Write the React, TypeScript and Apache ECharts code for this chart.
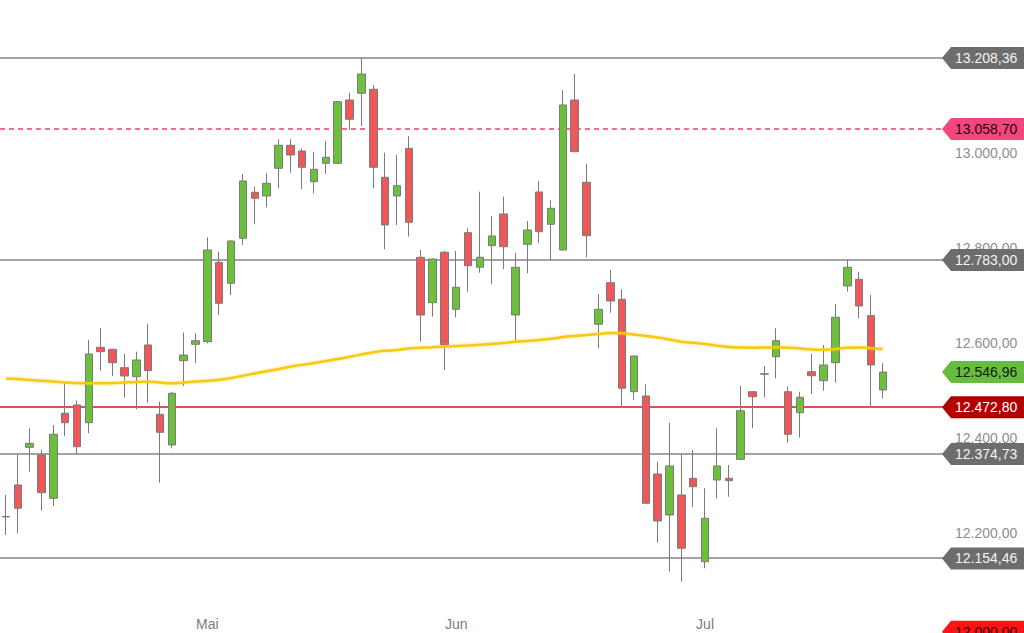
import React, { useEffect, useRef } from "react";
import * as echarts from "echarts";

// ---- data ----
const dates = [
  "2023-04-04", "2023-04-05", "2023-04-06", "2023-04-11", "2023-04-12", "2023-04-13", "2023-04-14",
  "2023-04-17", "2023-04-18", "2023-04-19", "2023-04-20", "2023-04-21", "2023-04-24", "2023-04-25",
  "2023-04-26", "2023-04-27", "2023-04-28",
  "2023-05-02", "2023-05-03", "2023-05-04", "2023-05-05", "2023-05-08", "2023-05-09", "2023-05-10",
  "2023-05-11", "2023-05-12", "2023-05-15", "2023-05-16", "2023-05-17", "2023-05-18", "2023-05-19",
  "2023-05-22", "2023-05-23", "2023-05-24", "2023-05-25", "2023-05-26", "2023-05-30", "2023-05-31",
  "2023-06-01", "2023-06-02", "2023-06-05", "2023-06-06", "2023-06-07", "2023-06-09", "2023-06-12",
  "2023-06-13", "2023-06-14", "2023-06-15", "2023-06-16", "2023-06-19", "2023-06-20", "2023-06-21",
  "2023-06-22", "2023-06-23", "2023-06-26", "2023-06-27", "2023-06-28", "2023-06-29", "2023-06-30",
  "2023-07-03", "2023-07-04", "2023-07-05", "2023-07-06", "2023-07-07", "2023-07-10", "2023-07-11",
  "2023-07-12", "2023-07-13", "2023-07-14", "2023-07-17", "2023-07-18", "2023-07-19", "2023-07-20",
  "2023-07-21", "2023-07-24",
];

const opens = [
  12243, 12309.3, 12388.6, 12372.4, 12281.2, 12460.2, 12477.7, 12440.4, 12599.2, 12595.0,
  12556.3, 12537.3, 12604.1, 12458.1, 12393.5, 12571.0, 12605.5, 12611.0, 12778.2, 12734.0,
  12828.7, 12925.6, 12917.8, 12976.1, 13024.6, 13012.5, 12947.9, 12986.7, 12986.7, 13119.9,
  13134.1, 13142.5, 12957.2, 12917.8, 13018.2, 12788.7, 12693.1, 12799.3, 12679.2, 12840.5,
  12767.7, 12813.2, 12879.9, 12667.2, 12816.1, 12926.2, 12858.2, 12804.1, 13119.9, 12946.7,
  12647.6, 12735.2, 12700.3, 12505.7, 12496.7, 12332.4, 12246.1, 12288.2, 12323.4, 12147.8,
  12319.8, 12323.4, 12363.4, 12505.7, 12543.5, 12579.4, 12505.7, 12461.5, 12547.8, 12528.9,
  12566.8, 12728.3, 12742.4, 12665.8, 12509.3,
];
const closes = [
  12242, 12260.2, 12397.0, 12293.0, 12416.0, 12440.4, 12389.9, 12585.1, 12590.0, 12566.8,
  12538.8, 12572.5, 12549.9, 12420.2, 12502.4, 12583.0, 12613.1, 12804.1, 12691.9, 12823.0,
  12949.4, 12913.0, 12944.5, 13024.6, 13004.1, 12978.2, 12974.0, 12999.3, 13116.4, 13079.3,
  13174.7, 12978.2, 12856.7, 12939.5, 12862.4, 12667.2, 12785.1, 12604.1, 12725.6, 12771.0,
  12788.7, 12833.6, 12811.0, 12767.7, 12846.2, 12842.6, 12891.9, 13109.4, 13011.1, 12834.2,
  12679.2, 12696.7, 12512.9, 12580.9, 12270.7, 12233.5, 12349.3, 12176.0, 12305.7, 12239.1,
  12349.3, 12318.3, 12465.7, 12495.2, 12542.5, 12613.1, 12416.0, 12494.0, 12539.4, 12561.9,
  12662.4, 12767.7, 12686.2, 12561.9, 12546.96,
];
const lows = [
  12204, 12207.5, 12337.2, 12255.1, 12265.0, 12412.4, 12374.5, 12418.1, 12549.9, 12538.8,
  12493.1, 12468.7, 12482.6, 12314.1, 12386.5, 12517.7, 12565.5, 12607.6, 12667.2, 12709.3,
  12814.6, 12858.2, 12894.0, 12934.0, 12966.9, 12931.9, 12923.5, 12964.1, 12985.0, 13056.8,
  13065.2, 12934.0, 12805.6, 12856.7, 12832.1, 12611.0, 12663.6, 12551.4, 12662.4, 12716.3,
  12756.3, 12732.5, 12763.5, 12611.0, 12755.0, 12818.2, 12783.0, 12802.6, 13010.0, 12788.7,
  12597.1, 12672.1, 12474.1, 12488.2, 12270.0, 12187.8, 12126.7, 12105.6, 12262.3, 12133.9,
  12281.2, 12284.6, 12362.0, 12428.6, 12494.0, 12533.9, 12398.3, 12408.9, 12500.9, 12507.8,
  12524.7, 12716.3, 12660.3, 12472.8, 12491.8,
];
const highs = [
  12288, 12372.4, 12428.6, 12382.9, 12435.6, 12526.8, 12486.8, 12614.6, 12639.2, 12596.0,
  12585.1, 12590.0, 12648.3, 12484.7, 12505.7, 12630.0, 12628.7, 12830.8, 12800.5, 12825.0,
  12964.1, 12937.4, 12965.6, 13037.2, 13037.2, 13018.2, 13011.1, 13034.2, 13118.0, 13135.3,
  13208.36, 13151.5, 13009.0, 13004.1, 13044.1, 12804.1, 12786.0, 12802.6, 12802.0, 12849.8,
  12926.9, 12875.7, 12916.3, 12798.4, 12865.2, 12949.4, 12909.4, 13141.0, 13174.7, 12985.2,
  12711.4, 12762.0, 12721.4, 12581.5, 12521.3, 12358.3, 12440.4, 12373.9, 12382.9, 12302.3,
  12428.6, 12351.4, 12517.7, 12506.0, 12559.8, 12639.2, 12516.3, 12505.7, 12585.1, 12604.1,
  12690.4, 12783.0, 12758.4, 12709.3, 12565.5,
];

const movingAverage = [
  12533.5, 12532.4, 12530.3, 12528.7, 12527.2, 12525.1, 12524.0, 12523.6, 12523.4, 12524.0,
  12525.1, 12526.2, 12526.8, 12525.1, 12523.4, 12525.1, 12527.2, 12528.7, 12530.8, 12534.5,
  12539.2, 12544.1, 12548.7, 12553.1, 12558.2, 12562.2, 12566.2, 12570.4, 12574.6, 12579.2,
  12584.1, 12588.7, 12591.8, 12593.5, 12596.7, 12598.2, 12599.4, 12600.9, 12602.0, 12603.0,
  12604.5, 12606.2, 12608.3, 12610.8, 12612.5, 12614.6, 12617.1, 12620.9, 12623.0, 12625.1,
  12627.2, 12629.3, 12628.7, 12626.2, 12623.0, 12619.9, 12615.6, 12611.0, 12608.7, 12606.2,
  12602.6, 12599.9, 12598.8, 12598.4, 12598.6, 12599.2, 12598.2, 12596.7, 12594.6, 12594.0,
  12595.6, 12598.2, 12598.6, 12597.3, 12595.6,
];

const monthNames: Record<string, string> = { "04": "Apr", "05": "Mai", "06": "Jun", "07": "Jul" };

// horizontal levels: period high, marker, resistance, last price, low marker, supports, bottom marker
const levelValues = [13208.36, 13058.7, 12783.0, 12546.96, 12472.8, 12374.73, 12154.46, 12000.0];

// ---- styling / layout ----
const FONT = "'Liberation Sans', Arial, Helvetica, sans-serif";
const levelStyles = [
  { bg: "#6d6d6d", fg: "#f4f4f4", line: "#858585", dash: null, width: 1.5 },
  { bg: "#f2467c", fg: "#2a0008", line: "#f23a74", dash: [5, 4], width: 1.5 },
  { bg: "#6d6d6d", fg: "#f4f4f4", line: "#858585", dash: null, width: 1.5 },
  { bg: "#67bb3e", fg: "#0f220a", line: null, dash: null, width: 1 },
  { bg: "#b20000", fg: "#ffffff", line: "#d01818", dash: null, width: 1.5 },
  { bg: "#6d6d6d", fg: "#f4f4f4", line: "#858585", dash: null, width: 1.5 },
  { bg: "#6d6d6d", fg: "#f4f4f4", line: "#858585", dash: null, width: 1.5 },
  { bg: "#ff1414", fg: "#300000", line: null, dash: null, width: 1 },
];

const SLOT = 11.85;
const PAD_SLOTS = 5;
const PX_PER_UNIT = 0.4749;
const Y_MIN = 11800;
const Y_MAX = 13400;

function fmtDE(v: number): string {
  const [i, d] = v.toFixed(2).split(".");
  return i.replace(/\B(?=(\d{3})+(?!\d))/g, ".") + "," + d;
}

export default function App() {
  const ref = useRef<HTMLDivElement>(null);

  useEffect(() => {
    if (!ref.current) return;
    const chart = echarts.init(ref.current, undefined, { renderer: "svg" });

    const axisData = [...dates];
    for (let k = 0; k < PAD_SLOTS; k++) axisData.push("pad" + k);
    const gridWidth = axisData.length * SLOT;
    const gridTop = 58 - (Y_MAX - 13208.36) * PX_PER_UNIT;
    const gridHeight = (Y_MAX - Y_MIN) * PX_PER_UNIT;
    const gridBottomY = gridTop + gridHeight;

    const candleData = dates.map((_, i) => [opens[i], closes[i], lows[i], highs[i]]);

    const isMonthStart = (idx: number) =>
      idx > 0 && idx < dates.length && dates[idx].slice(5, 7) !== dates[idx - 1].slice(5, 7);

    const option: any = {
      animation: false,
      backgroundColor: "#ffffff",
      grid: {
        left: 0,
        top: gridTop,
        width: gridWidth,
        height: gridHeight,
        containLabel: false,
        outerBoundsMode: "none",
      },
      xAxis: {
        type: "category",
        data: axisData,
        boundaryGap: true,
        offset: -(gridBottomY - 617),
        axisLine: { show: false },
        axisTick: { show: false },
        splitLine: { show: false },
        axisLabel: {
          margin: 0,
          interval: (idx: number) => isMonthStart(idx),
          formatter: (val: string) => monthNames[val.slice(5, 7)] || "",
          color: "#7b7b7b",
          fontSize: 14,
          fontFamily: FONT,
        },
      },
      yAxis: {
        type: "value",
        position: "right",
        min: Y_MIN,
        max: Y_MAX,
        interval: 200,
        axisLine: { show: false },
        axisTick: { show: false },
        splitLine: { show: false },
        axisLabel: {
          margin: 7,
          formatter: (v: number) => fmtDE(v),
          color: "#8e8e8e",
          fontSize: 14,
          fontFamily: FONT,
          verticalAlign: "bottom",
          lineHeight: 7,
        },
      },
      series: [
        {
          type: "candlestick",
          data: candleData,
          barWidth: 8,
          itemStyle: {
            color: "#6cc03c",
            color0: "#ef5858",
            borderColor: "#7a7a7a",
            borderColor0: "#7a7a7a",
            borderWidth: 1,
          },
          z: 2,
        },
        {
          type: "line",
          data: movingAverage,
          showSymbol: false,
          smooth: true,
          lineStyle: {
            color: "#f7c912",
            width: 2.5,
            shadowColor: "rgba(247,201,18,0.55)",
            shadowBlur: 3,
          },
          z: 3,
        },
      ],
    };
    chart.setOption(option);

    const graphics: any[] = [];
    levelValues.forEach((v, i) => {
      const yRaw = chart.convertToPixel({ yAxisIndex: 0 }, v) as number;
      const s = levelStyles[i];
      if (s.line) {
        const yl = Math.round(yRaw);
        graphics.push({
          type: "line",
          z: 1,
          silent: true,
          shape: { x1: 0, y1: yl, x2: 944, y2: yl },
          style: s.dash
            ? { stroke: s.line, lineWidth: s.width, lineDash: s.dash }
            : { stroke: s.line, lineWidth: s.width },
        });
      }
    });
    levelValues.forEach((v, i) => {
      const y = chart.convertToPixel({ yAxisIndex: 0 }, v) as number;
      const s = levelStyles[i];
      graphics.push({
        type: "polygon",
        z: 100,
        shape: {
          points: [
            [942, y],
            [951, y - 11],
            [1024, y - 11],
            [1024, y + 11],
            [951, y + 11],
          ],
        },
        style: { fill: s.bg },
      });
      graphics.push({
        type: "text",
        z: 101,
        x: 955,
        y: y,
        style: {
          text: fmtDE(v),
          fill: s.fg,
          fontSize: 14,
          fontFamily: FONT,
          align: "left",
          verticalAlign: "middle",
        },
      });
    });
    chart.setOption({ graphic: graphics });

    return () => chart.dispose();
  }, []);

  return (
    <div
      ref={ref}
      style={{ position: "fixed", left: 0, top: 0, width: 1024, height: 633, background: "#fff" }}
    />
  );
}
